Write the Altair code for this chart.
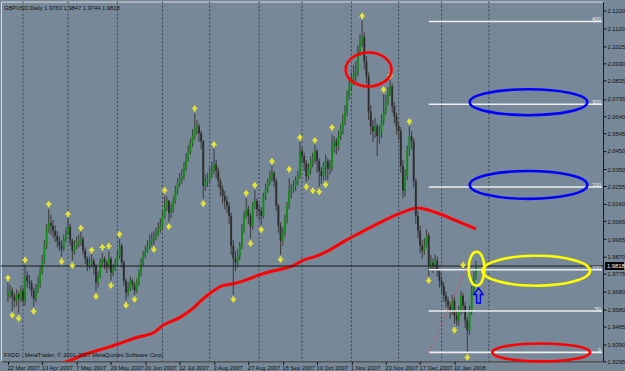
import altair as alt
import pandas as pd

# ---------------- data (prices stored in 1/10000 units) ----------------
opens = [
 19650, 19672, 19683, 19650, 19628, 19661, 19639, 19683, 19628, 19765,
 19737, 19726, 19683, 19639, 19694, 19726, 19792, 19847, 19929, 20022,
 20055, 20038, 20011, 19984, 19956, 19929, 19912, 19967, 20000, 20033,
 19956, 19902, 19929, 19945, 19956, 19967, 19902, 19858, 19819, 19836,
 19847, 19819, 19726, 19765, 19836, 19858, 19836, 19814, 19858, 19781,
 19803, 19836, 19874, 19929, 19836, 19737, 19672, 19694, 19737, 19715,
 19683, 19726, 19781, 19836, 19874, 19902, 19929, 19956, 19967, 19978,
 20000, 20022, 20038, 20093, 20148, 20175, 20109, 20131, 20175, 20230,
 20273, 20295, 20312, 20366, 20405, 20449, 20492, 20531, 20569, 20585,
 20547, 20503, 20257, 20285, 20295, 20328, 20350, 20377, 20339, 20285,
 20241, 20202, 20175, 20148, 20093, 19929, 19858, 19836, 19874, 19929,
 20022, 20093, 20131, 20093, 20038, 20148, 20175, 20131, 20120, 20093,
 20202, 20241, 20273, 20312, 20328, 20285, 20148, 20038, 19956, 20000,
 20077, 20148, 20230, 20241, 20257, 20285, 20312, 20449, 20421, 20383,
 20312, 20350, 20394, 20405, 20449, 20394, 20339, 20312, 20366, 20394,
 20350, 20366, 20476, 20503, 20476, 20531, 20569, 20613, 20667, 20749,
 20804, 20842, 20875, 20886, 20996, 21050, 21078, 20941, 20859, 20667,
 20585, 20558, 20585, 20531, 20547, 20613, 20667, 20722, 20777, 20804,
 20695, 20640, 20585, 20558, 20366, 20230, 20312, 20449, 20531, 20503,
 20285, 20093, 20011, 19929, 19902, 19929, 19984, 19819, 19836, 19819,
 19847, 19792, 19737, 19710, 19655, 19628, 19601, 19573, 19628, 19546,
 19519, 19573, 19655, 19601, 19519, 19464, 19573, 19683, 19763]
highs = [
 19726, 19715, 19700, 19670, 19690, 19680, 19710, 19700, 19825, 19790,
 19770, 19740, 19700, 19720, 19760, 19820, 19880, 19960, 20050, 20131,
 20100, 20070, 20040, 20010, 19980, 19960, 19990, 20030, 20080, 20050,
 19970, 19960, 19980, 19990, 20010, 19980, 19920, 19870, 19870, 19880,
 19860, 19830, 19790, 19860, 19890, 19870, 19850, 19900, 19870, 19830,
 19860, 19900, 19965, 19940, 19850, 19750, 19730, 19760, 19750, 19730,
 19750, 19800, 19860, 19900, 19930, 19960, 19990, 20000, 20010, 20030,
 20060, 20080, 20120, 20205, 20200, 20180, 20160, 20200, 20260, 20300,
 20330, 20350, 20390, 20440, 20480, 20520, 20570, 20655, 20620, 20600,
 20560, 20510, 20320, 20330, 20360, 20390, 20460, 20400, 20360, 20300,
 20260, 20230, 20200, 20170, 20110, 19960, 19900, 19910, 19950, 20050,
 20120, 20190, 20150, 20110, 20170, 20235, 20190, 20160, 20140, 20220,
 20270, 20300, 20340, 20370, 20340, 20300, 20160, 20060, 20030, 20100,
 20170, 20300, 20270, 20290, 20310, 20340, 20500, 20470, 20440, 20400,
 20380, 20420, 20440, 20485, 20460, 20410, 20360, 20390, 20430, 20410,
 20400, 20540, 20530, 20520, 20560, 20600, 20650, 20700, 20780, 20840,
 20880, 20920, 20940, 21030, 21090, 21165, 21100, 20970, 20880, 20700,
 20620, 20630, 20600, 20590, 20650, 20760, 20760, 20800, 20840, 20820,
 20720, 20660, 20610, 20580, 20400, 20350, 20480, 20585, 20560, 20520,
 20300, 20120, 20040, 19960, 19970, 20020, 20000, 19880, 19860, 19880,
 19870, 19800, 19760, 19730, 19680, 19650, 19620, 19660, 19650, 19570,
 19600, 19680, 19670, 19620, 19540, 19600, 19710, 19790, 19847]
lows = [
 19620, 19640, 19573, 19590, 19600, 19560, 19620, 19600, 19600, 19700,
 19690, 19650, 19595, 19620, 19670, 19700, 19770, 19830, 19910, 20000,
 19990, 19970, 19950, 19920, 19900, 19870, 19900, 19950, 19990, 19930,
 19850, 19880, 19910, 19920, 19930, 19880, 19830, 19790, 19800, 19810,
 19770, 19680, 19700, 19750, 19810, 19800, 19780, 19800, 19740, 19760,
 19790, 19820, 19860, 19810, 19710, 19630, 19650, 19680, 19690, 19661,
 19670, 19710, 19760, 19820, 19860, 19890, 19910, 19930, 19935, 19960,
 19980, 20000, 20020, 20080, 20120, 20060, 20080, 20110, 20160, 20210,
 20250, 20270, 20290, 20340, 20390, 20430, 20470, 20510, 20540, 20500,
 20460, 20190, 20230, 20250, 20270, 20300, 20320, 20300, 20250, 20200,
 20160, 20130, 20110, 20050, 19880, 19660, 19790, 19810, 19850, 19910,
 20000, 20080, 20050, 19970, 20020, 20130, 20090, 20070, 20044, 20080,
 20180, 20220, 20260, 20280, 20250, 20120, 20000, 19880, 19930, 19980,
 20050, 20130, 20190, 20220, 20230, 20260, 20300, 20380, 20340, 20280,
 20290, 20320, 20360, 20380, 20330, 20255, 20270, 20290, 20290, 20290,
 20320, 20340, 20440, 20430, 20450, 20510, 20540, 20590, 20640, 20730,
 20780, 20810, 20830, 20860, 20970, 21020, 20900, 20820, 20620, 20540,
 20500, 20520, 20420, 20490, 20520, 20590, 20650, 20700, 20750, 20660,
 20600, 20540, 20510, 20330, 20190, 20200, 20290, 20420, 20460, 20250,
 20050, 19970, 19890, 19860, 19880, 19920, 19760, 19790, 19780, 19800,
 19760, 19700, 19670, 19620, 19590, 19570, 19530, 19550, 19500, 19490,
 19490, 19550, 19560, 19480, 19338, 19440, 19550, 19660, 19744]
closes = [
 19672, 19683, 19650, 19628, 19661, 19639, 19683, 19628, 19765, 19737,
 19726, 19683, 19639, 19694, 19726, 19792, 19847, 19929, 20022, 20055,
 20038, 20011, 19984, 19956, 19929, 19912, 19967, 20000, 20033, 19956,
 19902, 19929, 19945, 19956, 19967, 19902, 19858, 19819, 19836, 19847,
 19819, 19726, 19765, 19836, 19858, 19836, 19814, 19858, 19781, 19803,
 19836, 19874, 19929, 19836, 19737, 19672, 19694, 19737, 19715, 19683,
 19726, 19781, 19836, 19874, 19902, 19929, 19956, 19967, 19978, 20000,
 20022, 20038, 20093, 20148, 20175, 20109, 20131, 20175, 20230, 20273,
 20295, 20312, 20366, 20405, 20449, 20492, 20531, 20569, 20585, 20547,
 20503, 20257, 20285, 20295, 20328, 20350, 20377, 20339, 20285, 20241,
 20202, 20175, 20148, 20093, 19929, 19858, 19836, 19874, 19929, 20022,
 20093, 20131, 20093, 20038, 20148, 20175, 20131, 20120, 20093, 20202,
 20241, 20273, 20312, 20328, 20285, 20148, 20038, 19956, 20000, 20077,
 20148, 20230, 20241, 20257, 20285, 20312, 20449, 20421, 20383, 20312,
 20350, 20394, 20405, 20449, 20394, 20339, 20312, 20366, 20394, 20350,
 20366, 20476, 20503, 20476, 20531, 20569, 20613, 20667, 20749, 20804,
 20842, 20875, 20886, 20996, 21050, 21078, 20941, 20859, 20667, 20585,
 20558, 20585, 20531, 20547, 20613, 20667, 20722, 20777, 20804, 20695,
 20640, 20585, 20558, 20366, 20230, 20312, 20449, 20531, 20503, 20285,
 20093, 20011, 19929, 19902, 19929, 19984, 19819, 19836, 19819, 19847,
 19792, 19737, 19710, 19655, 19628, 19601, 19573, 19628, 19546, 19519,
 19573, 19655, 19601, 19519, 19464, 19573, 19683, 19763, 19818]

x_label_idx = [0, 16, 32, 48, 64, 80, 96, 112, 128, 144, 160, 176, 192, 208]
x_labels = ["22 Mar 2007", "13 Apr 2007", "7 May 2007", "29 May 2007", "20 Jun 2007",
            "12 Jul 2007", "3 Aug 2007", "27 Aug 2007", "18 Sep 2007", "10 Oct 2007",
            "1 Nov 2007", "23 Nov 2007", "17 Dec 2007", "10 Jan 2008"]
month_idx = [7, 28, 51, 72, 94, 117, 137, 160, 182, 202, 224]
y_labels = [2.1220, 2.1120, 2.1025, 2.0930, 2.0835, 2.0735, 2.0640, 2.0545, 2.0450,
            2.0350, 2.0255, 2.0160, 2.0065, 1.9965, 1.9870, 1.9775, 1.9680, 1.9580,
            1.9485, 1.9390, 1.9295]

ma_idx = [25, 29, 37, 45, 52, 60, 68, 72, 80, 86, 90, 94, 100, 105, 110, 116, 122,
          128, 133, 137, 144, 150, 157, 164, 173, 182, 191, 200, 209, 218]
ma_val = [1.9285, 1.9300, 1.9338, 1.9366, 1.9393, 1.9426, 1.9453, 1.9491, 1.9535,
          1.9584, 1.9628, 1.9667, 1.9710, 1.9721, 1.9738, 1.9765, 1.9787, 1.9803,
          1.9820, 1.9847, 1.9874, 1.9907, 1.9956, 2.0000, 2.0055, 2.0104, 2.0137,
          2.0109, 2.0066, 2.0022]

frac_up_idx = [0, 8, 19, 28, 34, 39, 44, 47, 52, 73, 87, 96, 111, 115, 123, 131,
               136, 143, 151, 165, 175, 178, 187, 212]
frac_up_price = [1.9754, 1.9852, 2.0159, 2.0104, 2.0027, 1.9907, 1.9923, 1.9929,
                 1.9994, 2.0235, 2.0684, 2.0487, 2.0219, 2.0263, 2.0394, 2.0350,
                 2.0525, 2.0509, 2.0580, 2.1192, 2.0788, 2.0864, 2.0613, 1.9825]
frac_dn_idx = [2, 5, 12, 25, 30, 41, 48, 55, 59, 68, 75, 91, 105, 113, 118, 127,
               139, 142, 145, 148, 196, 208, 214]
frac_dn_price = [1.9546, 1.9530, 1.9568, 1.9841, 1.9819, 1.9650, 1.9710, 1.9601,
                 1.9633, 1.9907, 2.0033, 2.0159, 1.9633, 1.9940, 2.0016, 1.9852,
                 2.0252, 2.0230, 2.0224, 2.0263, 1.9737, 1.9464, 1.9316]

fib_levels = ["0", "50", "100", "200", "300", "400"]
fib_prices = [1.9344, 1.9571, 1.9798, 2.0252, 2.0706, 2.1160]
fib_start_idx = 196
fib_trend_idx = [196, 214]
fib_trend_price = [1.9338, 1.9820]

last_price = 1.9818
title_text = "GBPUSD,Daily  1.9763 1.9847 1.9744 1.9818"
footer_text = "FXDD - MetaTrader, \u00a9 2001-2007 MetaQuotes Software Corp."

# annotation centres (bar index, price)
ell_idx = [168, 242.5, 242.5, 218.3, 246.1, 248.4]
ell_price = [2.0897, 2.0717, 2.0263, 1.9803, 1.9792, 1.9344]
arrow_idx = 219.2
arrow_price = 1.9656

# ---------------- styling ----------------
BG = "#778899"
W, H = 604, 361
xs = alt.Scale(domain=[-0.9, 274.9], nice=False, zero=False)
ys = alt.Scale(domain=[1.92945, 2.12692], nice=False, zero=False)

label_expr = ("[" + ",".join("'%s'" % s for s in x_labels) + "][indexof(["
              + ",".join(str(v) for v in x_label_idx) + "], datum.value)]")
xaxis = alt.Axis(values=x_label_idx, labelExpr=label_expr, title=None, grid=False,
                 orient="bottom", labelAlign="left", labelBaseline="top",
                 labelFontSize=5.8, labelColor="#111111", tickColor="#111111",
                 domainColor="#111111", tickSize=3, labelPadding=0, labelOffset=-1,
                 labelOverlap=False, labelFlush=False, labelBound=False)
yaxis = alt.Axis(values=y_labels, format=".4f", title=None, grid=False, orient="right",
                 labelFontSize=5.8, labelColor="#111111", tickColor="#111111",
                 domainColor="#111111", tickSize=3, labelPadding=1,
                 labelBaseline="middle", labelOverlap=False, labelFlush=False,
                 labelBound=False)

def X(field):
    return alt.X(field, type="quantitative", scale=xs, axis=xaxis)

def Y(field):
    return alt.Y(field, type="quantitative", scale=ys, axis=yaxis)

df = pd.DataFrame({
    "i": list(range(len(closes))),
    "o": [v / 10000 for v in opens],
    "h": [v / 10000 for v in highs],
    "l": [v / 10000 for v in lows],
    "c": [v / 10000 for v in closes],
})

grid = alt.Chart(pd.DataFrame({"i": month_idx})).mark_rule(
    color="#3b4550", strokeWidth=1, strokeDash=[2, 2]).encode(x=X("i"))

ma = alt.Chart(pd.DataFrame({"i": ma_idx, "p": ma_val})).mark_line(
    color="#ff0000", strokeWidth=3, clip=True, interpolate="monotone"
).encode(x=X("i"), y=Y("p"))

wicks = alt.Chart(df).mark_rule(color="#404040", strokeWidth=1.1).encode(
    x=X("i"), y=Y("l"), y2="h")
bodies = alt.Chart(df).mark_bar(size=1.9).encode(
    x=X("i"), y=Y("o"), y2="c",
    color=alt.condition("datum.c >= datum.o", alt.value("#129012"), alt.value("#2e2e2e")))

price_line = alt.Chart(pd.DataFrame({"p": [last_price]})).mark_rule(
    color="#1a1a1a", strokeWidth=1).encode(y=Y("p"))

fib_df = pd.DataFrame({"lvl": fib_levels, "p": fib_prices,
                       "i": [fib_start_idx] * len(fib_levels)})
fib_lines = alt.Chart(fib_df).mark_rule(color="#eeeeee", strokeWidth=1.6).encode(
    x=X("i"), x2=alt.value(W - 1), y=Y("p"))
fib_text = alt.Chart(fib_df).mark_text(
    align="right", baseline="bottom", fontSize=5.5, color="#eeeeee", dy=1
).encode(x=alt.value(W - 2), y=Y("p"), text="lvl:N")

fib_trend = alt.Chart(pd.DataFrame({"i": fib_trend_idx, "p": fib_trend_price})).mark_line(
    color="#ff3030", strokeWidth=1, strokeDash=[1, 2]).encode(x=X("i"), y=Y("p"))

UP = "M0,-1 L1,0.35 L0.35,0.35 L0.35,1 L-0.35,1 L-0.35,0.35 L-1,0.35 Z"
DN = "M0,1 L1,-0.35 L0.35,-0.35 L0.35,-1 L-0.35,-1 L-0.35,-0.35 L-1,-0.35 Z"
frac_up = alt.Chart(pd.DataFrame({"i": frac_up_idx, "p": frac_up_price})).mark_point(
    shape=UP, filled=True, color="#e6e632", size=42, opacity=1).encode(x=X("i"), y=Y("p"))
frac_dn = alt.Chart(pd.DataFrame({"i": frac_dn_idx, "p": frac_dn_price})).mark_point(
    shape=DN, filled=True, color="#e6e632", size=42, opacity=1).encode(x=X("i"), y=Y("p"))

def ellipse_path(rx, ry):
    m = max(rx, ry)
    a, b = rx / m, ry / m
    k = 0.5523
    f = lambda v: ("%.4f" % v)
    return ("M%s,0 C%s,%s %s,%s 0,%s C%s,%s %s,%s %s,0 C%s,%s %s,%s 0,%s C%s,%s %s,%s %s,0 Z" % (
        f(-a), f(-a), f(-k * b), f(-k * a), f(-b), f(-b),
        f(k * a), f(-b), f(a), f(-k * b), f(a),
        f(a), f(k * b), f(k * a), f(b), f(b),
        f(-k * a), f(b), f(-a), f(k * b), f(-a)))

ell_styles = [  # (half width px, half height px, colour)
    (23, 17, "#ff0000"),
    (59, 13, "#0000ff"),
    (59, 14, "#0000ff"),
    (8, 17, "#ffff00"),
    (54, 15, "#ffff00"),
    (49, 9, "#ff0000"),
]
ellipses = []
for (ix, pr), (rx, ry, col) in zip(zip(ell_idx, ell_price), ell_styles):
    ellipses.append(
        alt.Chart(pd.DataFrame({"i": [ix], "p": [pr]})).mark_point(
            shape=ellipse_path(rx, ry), filled=False, color=col, strokeWidth=2.6,
            size=(2 * max(rx, ry)) ** 2, opacity=1).encode(x=X("i"), y=Y("p")))

ARROW = "M0,-1 L0.6,-0.15 L0.25,-0.15 L0.25,1 L-0.25,1 L-0.25,-0.15 L-0.6,-0.15 Z"
arrow = alt.Chart(pd.DataFrame({"i": [arrow_idx], "p": [arrow_price]})).mark_point(
    shape=ARROW, filled=False, color="#0000ff", strokeWidth=1.5, size=15 ** 2,
    opacity=1).encode(x=X("i"), y=Y("p"))

title = alt.Chart(pd.DataFrame({"t": [title_text]})).mark_text(
    align="left", baseline="middle", fontSize=5.8, color="#111111"
).encode(x=alt.value(3), y=alt.value(6), text="t:N")
footer = alt.Chart(pd.DataFrame({"t": [footer_text]})).mark_text(
    align="left", baseline="middle", fontSize=5.8, color="#111111"
).encode(x=alt.value(3), y=alt.value(355), text="t:N")

box = alt.Chart(pd.DataFrame({"p": [last_price]})).mark_rect(
    color="#000000", yOffset=-4, y2Offset=4).encode(
    x=alt.value(W + 2), x2=alt.value(W + 21), y=Y("p"), y2="p")
box_text = alt.Chart(pd.DataFrame({"p": [last_price]})).mark_text(
    align="left", baseline="middle", fontSize=5.8, color="#ffffff"
).encode(x=alt.value(W + 4), y=Y("p"), text=alt.Text("p:Q", format=".4f"))

chart = alt.layer(
    grid, ma, wicks, bodies, price_line, fib_lines, fib_text, fib_trend,
    frac_up, frac_dn, *ellipses, arrow, title, footer, box, box_text
).properties(
    width=W, height=H, background=BG,
    padding={"left": 0, "top": 0, "right": 0, "bottom": 0},
).configure_view(stroke="#1a1a1a", strokeWidth=1).configure(
    font="Liberation Sans")

chart.save("out.html", embed_options={"renderer": "svg", "actions": False})
